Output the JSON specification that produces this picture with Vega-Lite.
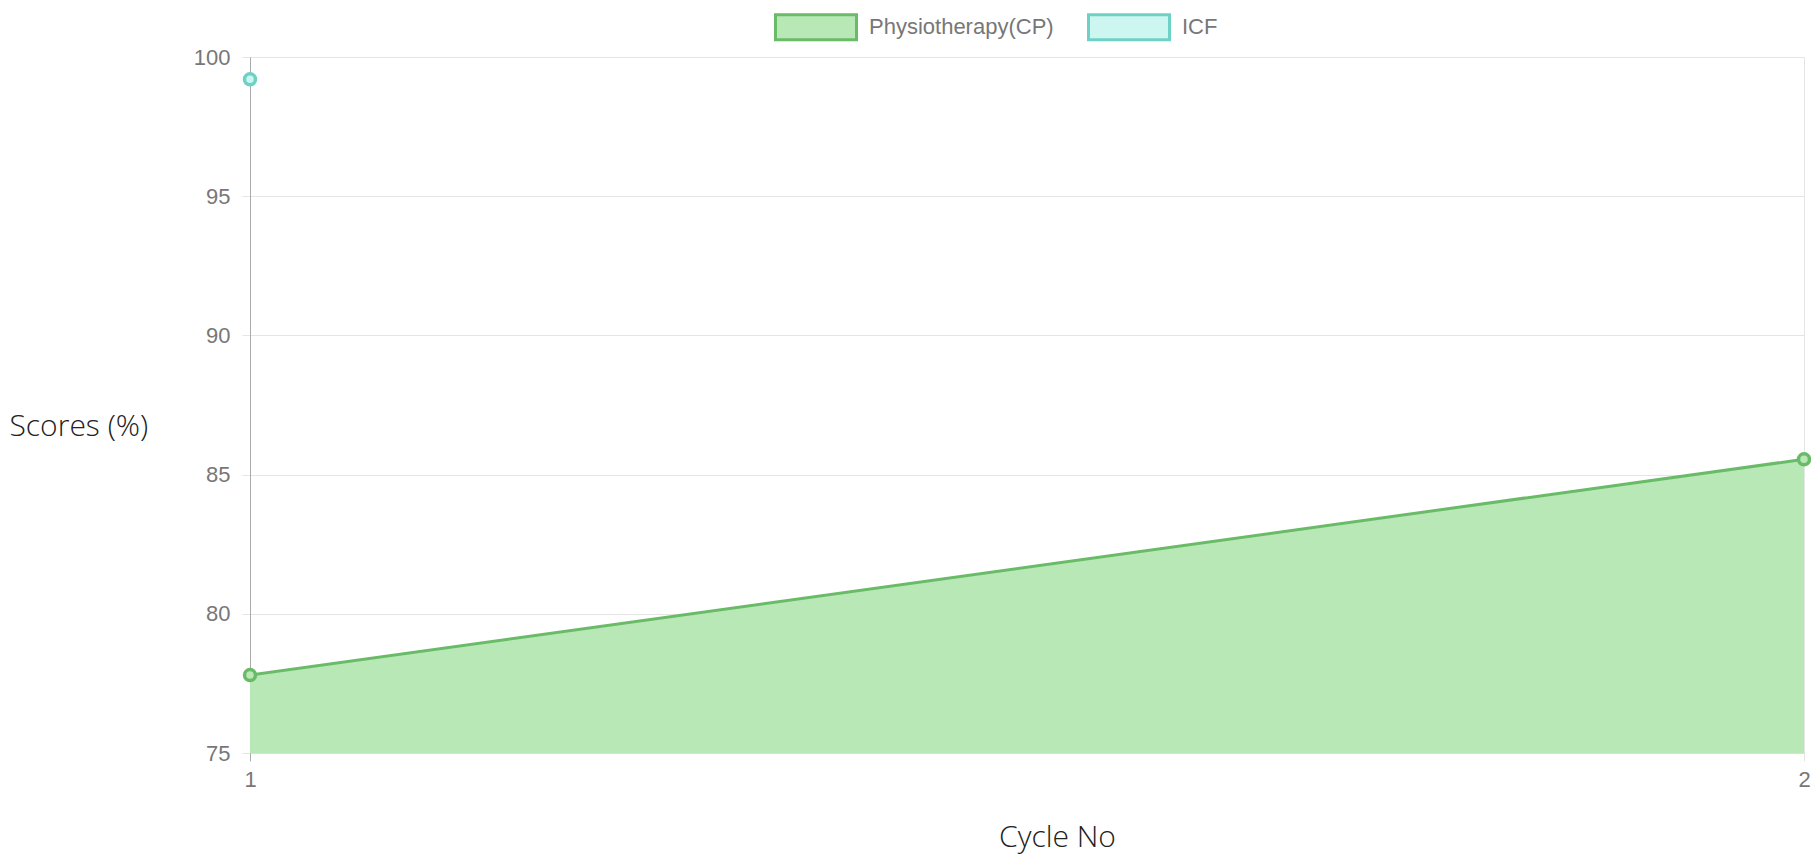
{
  "$schema": "https://vega.github.io/schema/vega-lite/v6.json",
  "autosize": {"type": "none"},
  "padding": {"left": 250, "top": 57, "right": 7, "bottom": 106},
  "width": 1554,
  "height": 696,
  "background": "white",
  "config": {"view": {"stroke": null}},
  "data": {"values": [
    {"series": "Physiotherapy(CP)", "cycle": 1, "score": 77.8},
    {"series": "Physiotherapy(CP)", "cycle": 2, "score": 85.55},
    {"series": "ICF", "cycle": 1, "score": 99.2}
  ]},
  "encoding": {
    "x": {"field": "cycle", "type": "quantitative",
      "scale": {"domain": [1, 2], "nice": false, "zero": false},
      "axis": {"values": [1, 2], "format": "d", "title": "Cycle No",
        "titleX": 807, "titleY": 84, "titleBaseline": "middle", "titleAlign": "center",
        "titleFont": "Open Sans", "titleFontWeight": 300, "titleFontSize": 30, "titleColor": "#222",
        "labelFont": "Liberation Sans", "labelFontSize": 22, "labelColor": "#777", "labelPadding": 8,
        "labelFlush": false,
        "domainColor": "#dddddd", "tickSize": 8,
        "tickColor": {"condition": {"test": "datum.value == 1", "value": "#aaaaaa"}, "value": "#e5e5e5"},
        "grid": true, "gridColor": {"condition": {"test": "datum.value == 1", "value": "#aaaaaa"}, "value": "#e5e5e5"}}},
    "y": {"field": "score", "type": "quantitative",
      "scale": {"domain": [75, 100], "nice": false, "zero": false},
      "axis": {"values": [75, 80, 85, 90, 95, 100], "title": "Scores (%)",
        "titleAngle": 0, "titleX": -241, "titleY": 369, "titleAlign": "left", "titleBaseline": "middle",
        "titleFont": "Open Sans", "titleFontWeight": 300, "titleFontSize": 30, "titleColor": "#222",
        "labelFont": "Liberation Sans", "labelFontSize": 22, "labelColor": "#777", "labelPadding": 12,
        "domainColor": "#aaaaaa", "tickSize": 8, "tickColor": "#e5e5e5",
        "grid": true, "gridColor": "#e5e5e5"}}
  },
  "layer": [
    {
      "transform": [{"filter": "datum.series === 'Physiotherapy(CP)'"}],
      "mark": {"type": "area", "opacity": 1},
      "encoding": {
        "y2": {"datum": 75},
        "fill": {"field": "series", "type": "nominal",
          "scale": {"domain": ["Physiotherapy(CP)", "ICF"], "range": ["#b9e8b7", "#cdf6f1"]},
          "legend": {"orient": "none", "legendX": 524, "legendY": -72, "direction": "horizontal",
            "title": null, "symbolType": "M-1,-0.31H1V0.31H-1Z", "symbolSize": 6561,
            "symbolStrokeWidth": 3, "labelFont": "Liberation Sans", "labelFontSize": 22,
            "labelColor": "#777", "labelOffset": 11, "labelLimit": 400, "columnPadding": 28, "symbolOpacity": 1}}
      }
    },
    {
      "mark": {"type": "line", "strokeWidth": 3},
      "encoding": {
        "stroke": {"field": "series", "type": "nominal",
          "scale": {"domain": ["Physiotherapy(CP)", "ICF"], "range": ["#6abb68", "#6dd2c5"]}}
      }
    },
    {
      "mark": {"type": "point", "filled": false, "size": 120, "strokeWidth": 3.5, "opacity": 1},
      "encoding": {
        "stroke": {"field": "series", "type": "nominal"},
        "fill": {"field": "series", "type": "nominal"}
      }
    }
  ]
}
